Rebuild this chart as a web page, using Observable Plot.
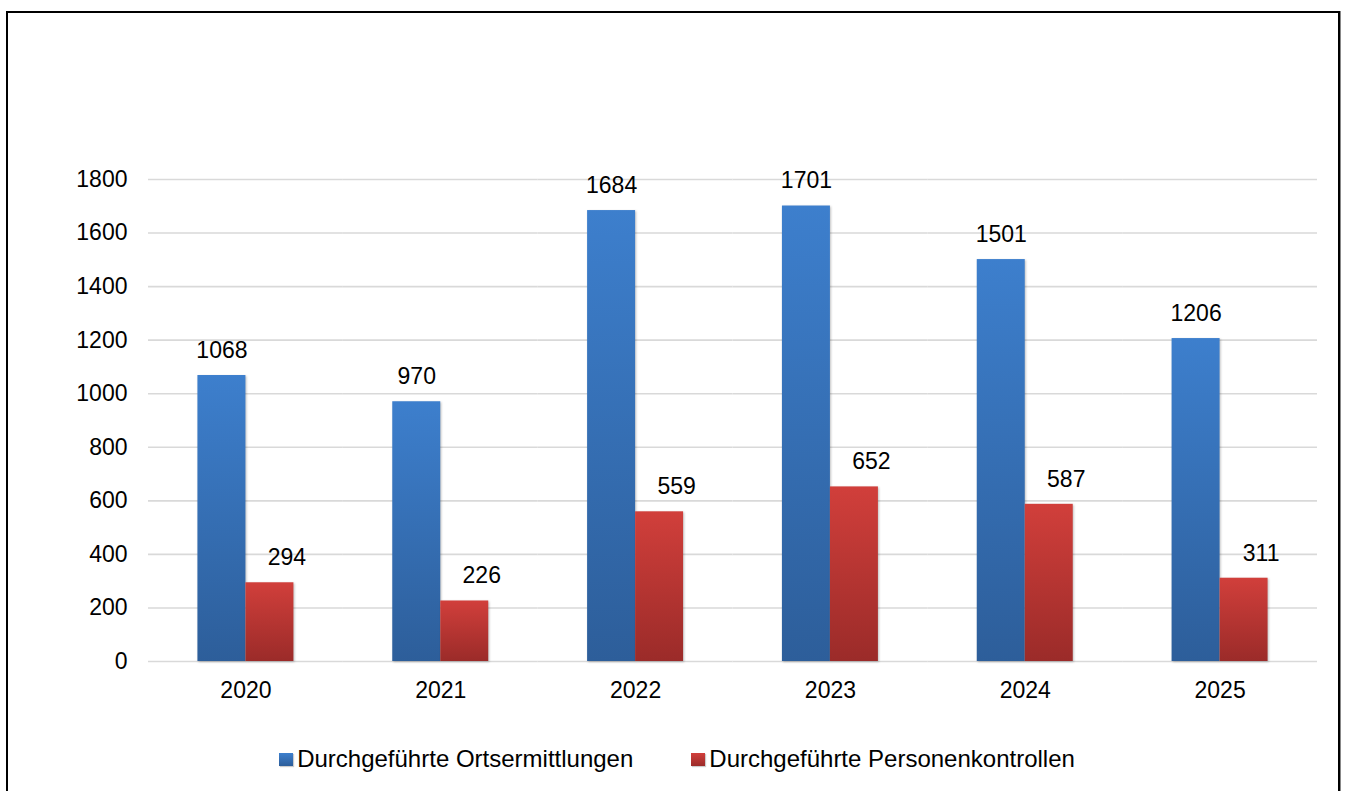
<!DOCTYPE html>
<html>
<head>
<meta charset="utf-8">
<script src="https://cdn.jsdelivr.net/npm/d3@7"></script>
<script src="https://cdn.jsdelivr.net/npm/@observablehq/plot@0.6"></script>
<style>
  html, body { margin: 0; padding: 0; background: #fff; overflow: hidden; }
  #frame {
    position: absolute; left: 6px; top: 11px; width: 1330px; height: 820px;
    border: 2px solid #000; border-bottom: none;
    box-shadow: 1px 0 0 #888;
    font-family: "Liberation Sans", Arial, sans-serif;
  }
  #chart svg { display: block; }
  #legend {
    width: 1330px; height: 96px; display: flex; align-items: center; justify-content: center;
    gap: 58px; padding-left: 8px; box-sizing: border-box;
    font-size: 24px; color: #000;
  }
  .item { display: flex; align-items: center; }
  .sw { width: 14px; height: 13px; margin-right: 4px; box-shadow: 1px 1px 1px rgba(0,0,0,0.2); }
</style>
</head>
<body>
<div id="frame">
  <div id="chart"></div>
  <div id="legend"></div>
</div>
<script>
const years = ["2020", "2021", "2022", "2023", "2024", "2025"];
const ortsermittlungen = [1068, 970, 1684, 1701, 1501, 1206];
const personenkontrollen = [294, 226, 559, 652, 587, 311];
const seriesNames = ["Durchgeführte Ortsermittlungen", "Durchgeführte Personenkontrollen"];
const yTicks = [0, 200, 400, 600, 800, 1000, 1200, 1400, 1600, 1800];

const blueRows = years.map((y, i) => ({year: y, series: seriesNames[0], value: ortsermittlungen[i]}));
const redRows = years.map((y, i) => ({year: y, series: seriesNames[1], value: personenkontrollen[i]}));

const font = "'Liberation Sans', Arial, sans-serif";

const svg = Plot.plot({
  width: 1330,
  height: 698,
  marginLeft: 140,
  marginRight: 21,
  marginTop: 166,
  marginBottom: 50,
  style: {fontFamily: font, fontSize: "23px", color: "#000", background: "transparent"},
  fx: {domain: years, padding: 0, round: false, label: null, axis: "bottom", tickSize: 0, tickPadding: 20},
  x: {domain: seriesNames, paddingInner: 0, paddingOuter: 1.03, round: false, axis: null},
  y: {domain: [0, 1800], ticks: yTicks, tickSize: 0, tickPadding: 21, label: null, tickFormat: d => String(d)},
  marks: [
    Plot.gridY(yTicks, {stroke: "#d9d9d9", strokeOpacity: 1, strokeWidth: 1.6}),
    Plot.barY(blueRows, {fx: "year", x: "series", y: "value", fill: "url(#gradBlue)"}),
    Plot.barY(redRows, {fx: "year", x: "series", y: "value", fill: "url(#gradRed)"}),
    Plot.text(blueRows, {fx: "year", x: "series", y: "value", text: d => String(d.value), dy: -25, lineAnchor: "middle", fontSize: 23, fill: "#000"}),
    Plot.text(redRows, {fx: "year", x: "series", y: "value", text: d => String(d.value), dx: 17, dy: -25, lineAnchor: "middle", fontSize: 23, fill: "#000"})
  ]
});

d3.select(svg).insert("defs", ":first-child").html(`
  <linearGradient id="gradBlue" x1="0" y1="0" x2="0" y2="1">
    <stop offset="0" stop-color="#3d7fcd"/>
    <stop offset="1" stop-color="#2d5e9a"/>
  </linearGradient>
  <linearGradient id="gradRed" x1="0" y1="0" x2="0" y2="1">
    <stop offset="0" stop-color="#d13f3b"/>
    <stop offset="1" stop-color="#9b2b29"/>
  </linearGradient>
`);
d3.select(svg).selectAll('g[aria-label="bar"]').style("filter", "drop-shadow(1px 1px 1px rgba(0,0,0,0.25))");

document.getElementById("chart").appendChild(svg);

const legendColors = ["linear-gradient(#3d7fcd, #2d5e9a)", "linear-gradient(#d13f3b, #9b2b29)"];
const legend = document.getElementById("legend");
seriesNames.forEach((name, i) => {
  const item = document.createElement("div");
  item.className = "item";
  const sw = document.createElement("span");
  sw.className = "sw";
  sw.style.background = legendColors[i];
  const label = document.createElement("span");
  label.textContent = name;
  item.appendChild(sw);
  item.appendChild(label);
  legend.appendChild(item);
});
</script>
</body>
</html>
